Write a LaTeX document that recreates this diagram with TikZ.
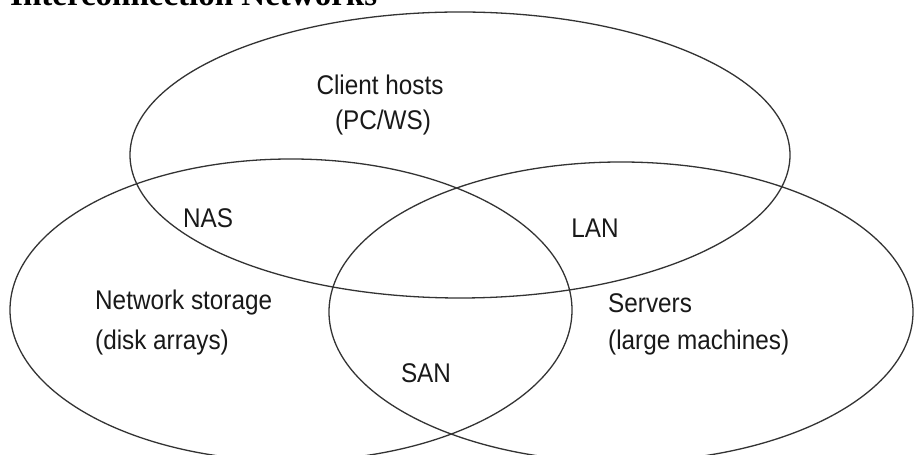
\documentclass[tikz,border=0pt]{standalone}
\usepackage{fontspec}
\setmainfont{Liberation Serif}
\newfontfamily\lblfont{Liberation Sans}
\begin{document}
\begin{tikzpicture}[x=1pt,y=1pt,
  venn/.style={draw=black!80,line width=1.3pt},
  lbl/.style={font=\lblfont\fontsize{27}{31}\selectfont,inner sep=0pt,text=black!90},
  ttl/.style={font=\bfseries\fontsize{33}{37}\selectfont,inner sep=0pt}]
\useasboundingbox (0,0) rectangle (914,455);
\clip (0,0) rectangle (914,455);
\fill[white] (0,0) rectangle (914,455);
% title (cut off at top)
\node[ttl,anchor=base west] (title) at (10,449.5) {Interconnection Networks};
% ellipses
\draw[venn] (460,300) ellipse [x radius=330, y radius=143];
\draw[venn] (291,145) ellipse [x radius=281, y radius=151];
\draw[venn] (621,143) ellipse [x radius=292, y radius=150];
% labels
\node[lbl] (client) at (380,370) {\scalebox{0.9}[1]{Client hosts}};
\node[lbl] (pcws) at (383,332) {\scalebox{0.9}[1]{(PC/WS)}};
\node[lbl] (nas) at (208,237) {\scalebox{0.9}[1]{NAS}};
\node[lbl] (lan) at (595,227) {\scalebox{0.9}[1]{LAN}};
\node[lbl,anchor=west] (netst) at (95,152) {\scalebox{0.9}[1]{Network storage}};
\node[lbl,anchor=west] (disk) at (95,112) {\scalebox{0.9}[1]{(disk arrays)}};
\node[lbl,anchor=west] (srv) at (608,152) {\scalebox{0.9}[1]{Servers}};
\node[lbl,anchor=west] (large) at (608,112) {\scalebox{0.9}[1]{(large machines)}};
\node[lbl] (san) at (426,82) {\scalebox{0.9}[1]{SAN}};
\end{tikzpicture}
\end{document}
